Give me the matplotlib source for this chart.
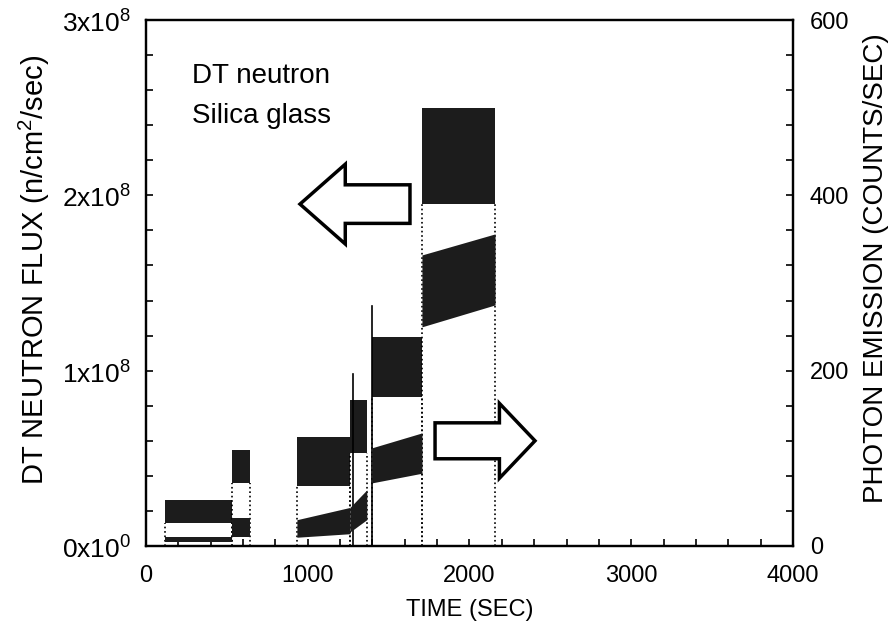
import matplotlib.pyplot as plt
from matplotlib.patches import FancyArrow
from matplotlib.ticker import MultipleLocator

plt.rcParams['font.family'] = ['Liberation Sans', 'DejaVu Sans']
plt.rcParams['mathtext.fontset'] = 'custom'
plt.rcParams['mathtext.rm'] = 'Liberation Sans'

# irradiation steps, start and end time (sec)
step_start = [117, 532, 933, 1261, 1397, 1706]
step_end = [532, 643, 1261, 1365, 1706, 2158]

# DT neutron flux band for each step (x1e8 n/cm2/sec)
flux_low = [0.13, 0.36, 0.34, 0.53, 0.85, 1.95]
flux_high = [0.26, 0.55, 0.62, 0.83, 1.19, 2.50]

# single flux spikes (sec, x1e8 n/cm2/sec)
spike_time = [1280, 1400]
spike_flux = [0.98, 1.37]

# photon emission band for each step (counts/sec), at step start and step end
photon_low_start = [4, 10, 10, 16, 72, 250]
photon_low_end = [4, 10, 14, 30, 83, 275]
photon_high_start = [10, 32, 30, 44, 112, 332]
photon_high_end = [10, 32, 44, 64, 129, 356]

time_ticks = [0, 1000, 2000, 3000, 4000]
flux_ticks = [0, 1e8, 2e8, 3e8]
flux_tick_labels = [r'0x10$^\mathregular{0}$', r'1x10$^\mathregular{8}$',
                    r'2x10$^\mathregular{8}$', r'3x10$^\mathregular{8}$']
photon_ticks = [0, 200, 400, 600]

fig = plt.figure(figsize=(8.95, 6.44), dpi=100)
ax = fig.add_axes([146 / 895, 98 / 644, 647 / 895, 526 / 644])
ax2 = ax.twinx()

band_color = '#1c1c1c'
for i in range(len(step_start)):
    t0, t1 = step_start[i], step_end[i]
    ax.fill_between([t0, t1], [flux_low[i] * 1e8] * 2, [flux_high[i] * 1e8] * 2,
                    color=band_color, lw=0)
    ax2.fill_between([t0, t1], [photon_low_start[i], photon_low_end[i]],
                     [photon_high_start[i], photon_high_end[i]],
                     color=band_color, lw=0)
    # dotted rise and fall at each step boundary
    ax.plot([t0, t0], [0, flux_low[i] * 1e8], ls=':', color='black', lw=1.2)
    ax.plot([t1, t1], [0, flux_low[i] * 1e8], ls=':', color='black', lw=1.2)

for t, f in zip(spike_time, spike_flux):
    ax.plot([t, t], [0, f * 1e8], color='black', lw=1.2)

# arrows pointing to the axis each trace belongs to
ax.add_patch(FancyArrow(1632, 1.95e8, -680, 0, width=0.22e8, head_width=0.455e8,
                        head_length=280, length_includes_head=True,
                        facecolor='white', edgecolor='black', lw=2.5, zorder=5))
ax.add_patch(FancyArrow(1787, 0.60e8, 618, 0, width=0.205e8, head_width=0.427e8,
                        head_length=220, length_includes_head=True,
                        facecolor='white', edgecolor='black', lw=2.5, zorder=5))

ax.text(284, 2.68e8, 'DT neutron', fontsize=20, va='center')
ax.text(284, 2.45e8, 'Silica glass', fontsize=20, va='center')

ax.set_xlim(0, 4000)
ax.set_ylim(0, 3e8)
ax2.set_ylim(0, 600)

ax.set_xticks(time_ticks)
ax.xaxis.set_minor_locator(MultipleLocator(200))
ax.set_yticks(flux_ticks, flux_tick_labels)
ax.yaxis.set_minor_locator(MultipleLocator(2e7))
ax2.set_yticks(photon_ticks)
ax2.yaxis.set_minor_locator(MultipleLocator(40))

for a in (ax, ax2):
    a.tick_params(which='both', direction='in', length=5, width=1.2, labelsize=17)
    for s in a.spines.values():
        s.set_linewidth(1.6)
ax.tick_params(axis='x', which='both', pad=14)
ax.tick_params(axis='y', which='both', pad=11, labelsize=19)
ax2.tick_params(axis='y', which='both', pad=12)

ax.set_xlabel('TIME (SEC)', fontsize=17, labelpad=8)
ax.set_ylabel(r'DT NEUTRON FLUX (n/cm$^\mathregular{2}$/sec)', fontsize=21)
ax2.set_ylabel('PHOTON EMISSION (COUNTS/SEC)', fontsize=20)
ax.yaxis.set_label_coords(-0.146, 0.525)
ax2.yaxis.set_label_coords(1.108, 0.528)

fig.savefig('out.png', dpi=100)
